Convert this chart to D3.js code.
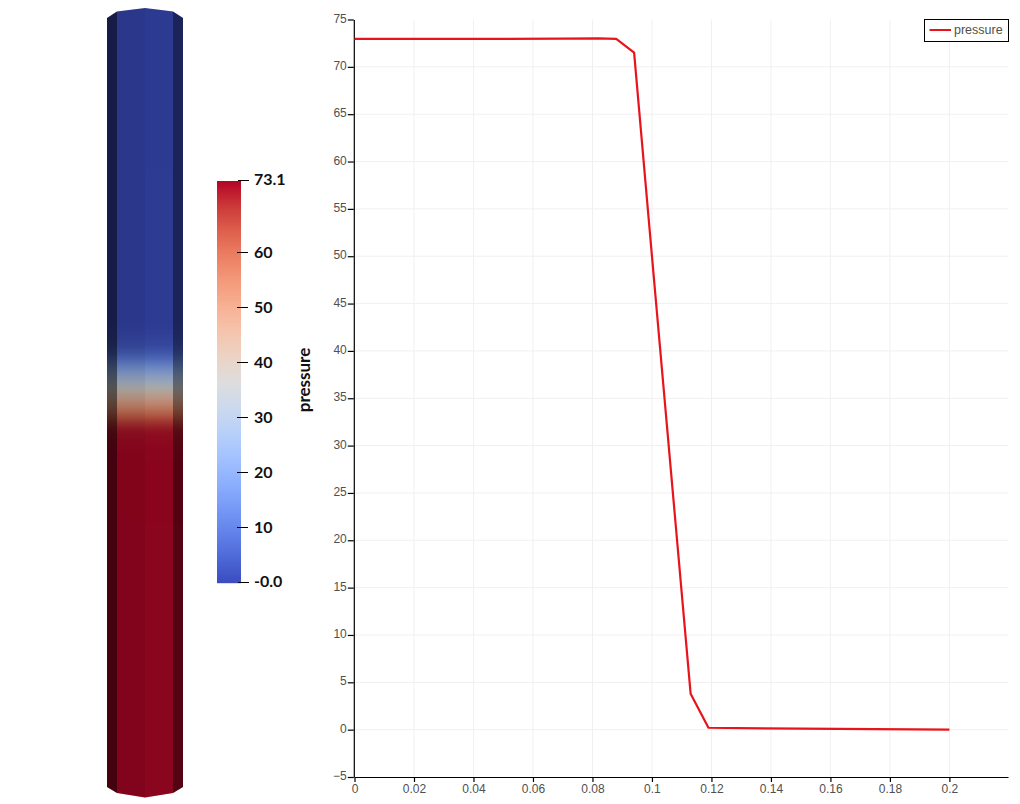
<!DOCTYPE html>
<html>
<head>
<meta charset="utf-8">
<script src="https://cdn.jsdelivr.net/npm/d3@7"></script>
<style>
  body { margin: 0; background: #fff; }
  .chart-tick text { font-family: "Liberation Sans", sans-serif; font-size: 12px; fill: #505050; }
  .bar-label { font-family: "Lato", sans-serif; font-size: 16px; font-weight: 700; fill: #111; }
</style>
</head>
<body>
<div class="chart"></div>
<script>
// pressure along the pipe
var positions = [0, 0.05, 0.07, 0.082, 0.088, 0.094, 0.1, 0.113, 0.119, 0.15, 0.2];
var pressures = [72.95, 72.95, 72.97, 73.0, 72.95, 71.5, 50, 3.8, 0.2, 0.1, 0];

var xTicks = [0, 0.02, 0.04, 0.06, 0.08, 0.1, 0.12, 0.14, 0.16, 0.18, 0.2];
var yTicks = [-5, 0, 5, 10, 15, 20, 25, 30, 35, 40, 45, 50, 55, 60, 65, 70, 75];
var barTicks = [10, 20, 30, 40, 50, 60];
var barEnds = [{ v: 73.1, label: "73.1" }, { v: 0, label: "-0.0" }];

var seriesName = "pressure";

// cool to warm colormap
var coolWarm = [
  "#3b4cc0", "#4d68d7", "#6282ea", "#779af7", "#8db0fe", "#a3c2ff", "#b8d0f9", "#ccd9ee", "#dddddd",
  "#ecd3c5", "#f5c4ad", "#f7b194", "#f49a7b", "#ec7f63", "#de604d", "#cb3938", "#b40426"
];

var svgWidth = 1020;
var svgHeight = 804;

var svg = d3.select(".chart").append("svg")
  .attr("width", svgWidth)
  .attr("height", svgHeight)
  .style("display", "block");

var pressureColor = d3.scaleLinear()
  .domain(d3.range(coolWarm.length).map(i => 73.1 * i / (coolWarm.length - 1)))
  .range(coolWarm)
  .clamp(true);

// pressure(x) from the line data, also used to paint the 3D pipe
var pressureAt = d3.scaleLinear().domain(positions).range(pressures).clamp(true);

// ---- line chart ----
var x = d3.scaleLinear().domain([0, 0.2197]).range([354.5, 1008]);
var y = d3.scaleLinear().domain([-5, 75]).range([777, 19.5]);

var grid = svg.append("g");
grid.selectAll(".gx")
  .data(xTicks.slice(1))
  .enter().append("line")
  .attr("x1", d => x(d)).attr("x2", d => x(d))
  .attr("y1", y(75)).attr("y2", y(-5))
  .attr("stroke", "#f0f0f0").attr("stroke-width", 1);
grid.selectAll(".gy")
  .data(yTicks.slice(1, -1))
  .enter().append("line")
  .attr("x1", x(0)).attr("x2", x.range()[1])
  .attr("y1", d => y(d)).attr("y2", d => y(d))
  .attr("stroke", "#f0f0f0").attr("stroke-width", 1);

var bottomAxis = d3.axisBottom(x).tickValues(xTicks).tickFormat(d3.format("")).tickSizeInner(5).tickSizeOuter(0).tickPadding(2);
var leftAxis = d3.axisLeft(y).tickValues(yTicks).tickSizeInner(6).tickSizeOuter(0).tickPadding(1);

var xAxisGroup = svg.append("g")
  .attr("class", "chart-tick")
  .attr("transform", `translate(0, ${y(-5)})`)
  .call(bottomAxis);
var yAxisGroup = svg.append("g")
  .attr("class", "chart-tick")
  .attr("transform", `translate(${x(0) - 0.7}, 0)`)
  .call(leftAxis);

yAxisGroup.selectAll("text").attr("dy", "0.22em");

[xAxisGroup, yAxisGroup].forEach(function(g) {
  g.selectAll("path, line").attr("stroke", "#000").attr("stroke-width", 1.2);
});

var lineGen = d3.line().x(d => x(d[0])).y(d => y(d[1]));
svg.append("path")
  .datum(d3.zip(positions, pressures))
  .attr("d", lineGen)
  .attr("fill", "none")
  .attr("stroke", "#e8141c")
  .attr("stroke-width", 2.2)
  .attr("stroke-linejoin", "round");

// Legend
var legend = svg.append("g");
legend.append("rect")
  .attr("x", 924.5).attr("y", 19.5).attr("width", 84).attr("height", 22)
  .attr("fill", "#fff").attr("stroke", "#000").attr("stroke-width", 1);
legend.append("line")
  .attr("x1", 929.5).attr("x2", 951).attr("y1", 30).attr("y2", 30)
  .attr("stroke", "#e8141c").attr("stroke-width", 2);
legend.append("text")
  .attr("x", 954).attr("y", 34)
  .attr("font-family", "Liberation Sans, sans-serif")
  .attr("font-size", 12.5)
  .attr("fill", "#505050")
  .text(seriesName);

// ---- 3D pipe, painted row by row from the pressure data ----
var pipeY = d3.scaleLinear().domain([0, 0.2]).range([797.5, 8]);

var facets = [
  { x0: 107, x1: 117, shade: 0.37 },
  { x0: 117, x1: 145, shade: 0.72 },
  { x0: 145, x1: 173, shade: 0.76 },
  { x0: 173, x1: 183, shade: 0.46 }
];

var outline = [[107, 18], [117, 11.5], [145, 8], [173, 11.5], [183, 18], [183, 787], [173, 793], [145, 797.5], [117, 793], [107, 787]];

svg.append("clipPath").attr("id", "pipe-clip")
  .append("polygon")
  .attr("points", outline.map(p => p.join(",")).join(" "));

function shaded(color, k) {
  var c = d3.rgb(color);
  return d3.rgb(c.r * k, c.g * k, c.b * k).formatRgb();
}

// the mesh cells blur the pressure a little along the pipe
function rowPressure(row) {
  return d3.mean(d3.range(-9, 10), o => pressureAt(pipeY.invert(row + 0.5 + o)));
}

var rows = d3.range(8, 798);
var pipe = svg.append("g").attr("clip-path", "url(#pipe-clip)");

facets.forEach(function(f) {
  pipe.append("g").selectAll("rect")
    .data(rows)
    .enter().append("rect")
    .attr("x", f.x0)
    .attr("width", f.x1 - f.x0)
    .attr("y", d => d)
    .attr("height", 1.2)
    .attr("fill", d => shaded(pressureColor(rowPressure(d)), f.shade));
});

// ---- colour bar ----
var barScale = d3.scaleLinear().domain([0, 73.1]).range([583, 181]);

svg.append("g").selectAll("rect")
  .data(d3.range(181, 583))
  .enter().append("rect")
  .attr("x", 217).attr("width", 24)
  .attr("y", d => d).attr("height", 1.2)
  .attr("fill", d => pressureColor(barScale.invert(d + 0.5)));

svg.append("g").selectAll("line")
  .data(barTicks)
  .enter().append("line")
  .attr("x1", 237).attr("x2", 248)
  .attr("y1", d => Math.round(barScale(d)) - 0.5).attr("y2", d => Math.round(barScale(d)) - 0.5)
  .attr("stroke", "#000").attr("stroke-width", 1);

svg.append("g").selectAll("line")
  .data(barEnds)
  .enter().append("line")
  .attr("x1", 238).attr("x2", 249)
  .attr("y1", d => Math.round(barScale(d.v)) - 0.5).attr("y2", d => Math.round(barScale(d.v)) - 0.5)
  .attr("stroke", "#000").attr("stroke-width", 1);

svg.append("g").selectAll("text")
  .data(barTicks)
  .enter().append("text")
  .attr("class", "bar-label")
  .attr("x", 254)
  .attr("y", d => barScale(d) + 4.5)
  .text(d => d);

svg.append("g").selectAll("text")
  .data(barEnds)
  .enter().append("text")
  .attr("class", "bar-label")
  .attr("x", 254)
  .attr("y", d => barScale(d.v) + 4)
  .text(d => d.label);

svg.append("text")
  .attr("class", "bar-label")
  .attr("transform", "translate(310, 380) rotate(-90)")
  .attr("text-anchor", "middle")
  .style("font-size", "17px")
  .text(seriesName);
</script>
</body>
</html>
